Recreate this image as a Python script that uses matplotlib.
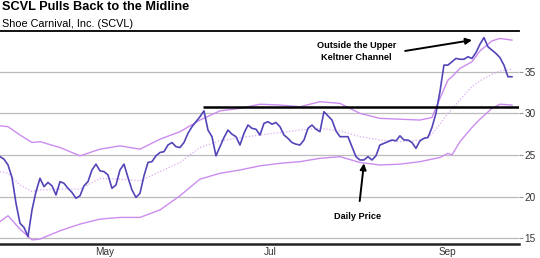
import matplotlib

matplotlib.use("Agg")
import matplotlib.pyplot as plt

plt.rcParams["font.family"] = ["Liberation Sans", "DejaVu Sans"]

# daily closing price, one value per trading day (day 0 = late March)
price = [
    24.8, 24.5, 23.8, 22.3, 19.2, 16.8, 16.3, 15.2, 18.4, 20.6,
    22.2, 21.2, 21.7, 21.3, 20.2, 21.8, 21.6, 21.0, 20.5, 19.8,
    20.1, 21.3, 21.8, 23.2, 23.9, 23.1, 23.0, 22.6, 21.0, 21.4,
    23.2, 23.9, 22.3, 20.8, 19.9, 20.4, 22.5, 24.1, 24.2, 24.9,
    25.3, 25.4, 26.2, 26.5, 26.0, 25.9, 26.5, 27.6, 28.4, 29.0,
    29.6, 30.3, 28.0, 27.2, 24.9, 26.0, 27.1, 28.0, 27.5, 27.2,
    26.2, 27.6, 28.6, 28.2, 28.1, 27.4, 28.8, 29.0, 28.7, 28.9,
    28.4, 27.4, 27.0, 26.5, 26.3, 26.2, 26.8, 28.2, 28.6, 28.1,
    27.8, 30.2, 29.7, 29.2, 27.9, 27.2, 27.2, 27.2, 26.0, 24.8,
    24.4, 24.4, 24.8, 24.4, 24.9, 26.2, 26.4, 26.6, 26.8, 26.7,
    27.3, 26.8, 26.8, 26.5, 25.8, 26.7, 27.0, 27.1, 28.3, 30.0,
    32.6, 35.8, 35.8, 36.2, 36.6, 36.5, 36.5, 36.8, 36.6, 37.3,
    38.3, 39.1, 38.0, 37.6, 37.2, 36.7, 35.8, 34.4, 34.4,
]

# Keltner channel at these days
band_days = [0, 2, 5, 8, 10, 15, 20, 25, 30, 35, 40, 45, 50, 55, 60, 65, 70, 75,
             80, 85, 90, 95, 100, 105, 108, 110, 112, 113, 115, 118, 120, 123, 125, 128]
upper = [28.5, 28.4, 27.4, 26.5, 26.6, 25.9, 24.9, 25.7, 26.1, 25.7, 26.9, 27.8,
         29.2, 30.3, 30.6, 31.1, 31.0, 30.8, 31.4, 31.2, 30.0, 29.4, 29.3, 29.2,
         29.5, 31.8, 34.0, 34.4, 35.4, 36.2, 37.5, 38.7, 39.0, 38.8]
middle = [23.0, 22.8, 21.4, 20.6, 20.8, 20.9, 20.9, 22.2, 22.1, 21.9, 23.0, 24.1,
          25.9, 26.7, 27.1, 27.4, 27.7, 28.0, 28.2, 27.9, 27.2, 26.8, 26.6, 26.8,
          27.5, 28.7, 30.0, 30.5, 31.6, 33.2, 33.9, 34.7, 35.1, 35.3]
lower = [17.0, 17.7, 16.1, 14.8, 14.9, 15.9, 16.7, 17.3, 17.5, 17.5, 18.4, 20.1,
         22.1, 22.8, 23.2, 23.7, 24.0, 24.2, 24.6, 24.8, 24.1, 23.8, 23.9, 24.2,
         24.5, 24.7, 25.2, 25.0, 26.6, 28.3, 29.3, 30.6, 31.1, 31.0]

month_ticks = [26.25, 67.5, 111.75]
month_labels = ["May", "Jul", "Sep"]
price_ticks = [15, 20, 25, 30, 35]
resistance = 30.72
resistance_start = 50.75

fig = plt.figure(figsize=(5.4, 2.58), dpi=100)
ax = fig.add_axes([0, 0.054, 0.961, 0.826])

days = list(range(len(price)))
band_color = "#cc8cef"
ax.plot(band_days, upper, color=band_color, lw=1.0)
ax.plot(band_days, lower, color=band_color, lw=1.0)
ax.plot(band_days, middle, color="#dcaaf2", lw=0.9, ls=(0, (1, 1.5)))
ax.plot(days, price, color="#5245b8", lw=1.2)

ax.hlines(resistance, resistance_start, 129.75, color="black", lw=1.8)

ax.set_xlim(0, 129.75)
ax.set_ylim(14.3, 39.9)

ax.yaxis.tick_right()
ax.set_yticks(price_ticks)
ax.tick_params(axis="y", length=3, width=0.8, color="#999999", pad=1,
               labelsize=7.2, labelcolor="#333333")
ax.set_xticks(month_ticks)
ax.set_xticklabels(month_labels)
ax.tick_params(axis="x", length=0, pad=2, labelsize=7.2, labelcolor="#333333")
ax.grid(axis="y", color="#bbbbbb", lw=0.9)
ax.set_axisbelow(True)

for side in ["left", "right"]:
    ax.spines[side].set_visible(False)
ax.spines["top"].set_linewidth(1.3)
ax.spines["bottom"].set_linewidth(1.8)
ax.spines["bottom"].set_color("#222222")

fig.text(0.004, 0.995, "SCVL Pulls Back to the Midline", fontsize=9.2,
         fontweight="bold", va="top", ha="left")
fig.text(0.004, 0.928, "Shoe Carnival, Inc. (SCVL)", fontsize=7.8,
         va="top", ha="left")

ax.text(89.2, 37.45, "Outside the Upper\nKeltner Channel", fontsize=6.6,
        fontweight="bold", ha="center", va="center", linespacing=1.4)
ax.annotate("", xy=(118, 38.8), xytext=(101.3, 37.5),
            arrowprops=dict(arrowstyle="-|>", color="black", lw=1.4,
                            mutation_scale=9, shrinkA=0, shrinkB=0))
ax.annotate("Daily Price", xy=(91, 24.0), xytext=(89.5, 17.6),
            fontsize=6.6, fontweight="bold", ha="center", va="center",
            arrowprops=dict(arrowstyle="-|>", color="black", lw=1.4,
                            mutation_scale=9, shrinkA=6, shrinkB=0))

fig.savefig("out.png", dpi=100)
